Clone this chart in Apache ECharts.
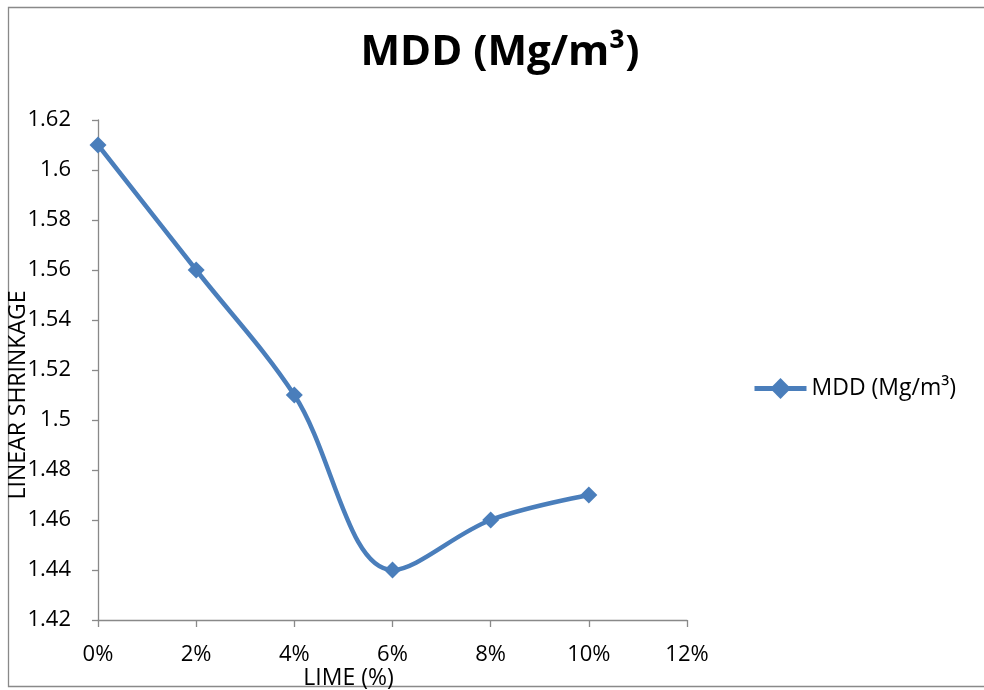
<!DOCTYPE html>
<html><head><meta charset="utf-8">
<script src="https://cdn.jsdelivr.net/npm/echarts@6/dist/echarts.min.js"></script>
<style>html,body{margin:0;padding:0;background:#fff}#c{width:984px;height:690px}</style>
</head><body><div id="c"></div>
<script>
const lime = [0, 2, 4, 6, 8, 10];
const mdd = [1.61, 1.56, 1.51, 1.44, 1.46, 1.47];
const seriesName = 'MDD (Mg/m³)';
const titleText = 'MDD (Mg/m³)';
const FONT = '"Open Sans", "Noto Sans", sans-serif';
const axisColor = '#898989';

const chart = echarts.init(document.getElementById('c'), null, {renderer: 'canvas'});
chart.setOption({
  animation: false,
  backgroundColor: '#fff',
  title: {
    text: titleText, left: 500, top: 32, textAlign: 'center', padding: 0,
    textStyle: {fontFamily: FONT, fontSize: 42, fontWeight: 'bold', color: '#000'}
  },
  legend: {
    left: 752, top: 377, orient: 'vertical', padding: 0,
    itemWidth: 52, itemHeight: 26, itemGap: 8,
    lineStyle: {width: 5},
    textStyle: {fontFamily: FONT, fontSize: 23, color: '#000'},
    data: [{name: seriesName}]
  },
  grid: {left: 98, right: 297, top: 120, bottom: 70, containLabel: false, outerBoundsMode: 'none'},
  xAxis: {
    type: 'value', min: 0, max: 12, interval: 2,
    name: 'LIME (%)', nameLocation: 'middle', nameGap: 47, nameMoveOverlap: false,
    nameTextStyle: {fontFamily: FONT, fontSize: 23, color: '#000', padding: [0, 88, 0, 0]},
    axisLine: {show: true, lineStyle: {color: axisColor, width: 1.3}},
    axisTick: {show: true, inside: false, length: 7, lineStyle: {color: axisColor, width: 1.3}},
    splitLine: {show: false},
    axisLabel: {fontFamily: FONT, fontSize: 22, color: '#000', margin: 24, formatter: v => v + '%'}
  },
  yAxis: {
    type: 'value', min: 1.42, max: 1.62, interval: 0.02,
    name: 'LINEAR SHRINKAGE', nameLocation: 'middle', nameGap: 68, nameRotate: 90, nameMoveOverlap: false,
    nameTextStyle: {fontFamily: FONT, fontSize: 23, color: '#000', padding: [0, 50, 0, 0]},
    axisLine: {show: true, lineStyle: {color: axisColor, width: 1.3}},
    axisTick: {show: true, inside: false, length: 6, lineStyle: {color: axisColor, width: 1.3}},
    splitLine: {show: false},
    axisLabel: {fontFamily: FONT, fontSize: 22, color: '#000', margin: 27,
      formatter: v => String(parseFloat(v.toFixed(2)))}
  },
  series: [{
    name: seriesName, type: 'line', smooth: 0.35,
    data: lime.map((x, i) => [x, mdd[i]]),
    symbol: 'diamond', symbolSize: 17,
    lineStyle: {color: '#4a7ebb', width: 4.5},
    itemStyle: {color: '#4a7ebb'}
  }],
  graphic: [{
    type: 'rect', shape: {x: 8.5, y: 7.5, width: 990, height: 679},
    style: {fill: 'none', stroke: '#898989', lineWidth: 1.3}, silent: true
  }]
});
</script></body></html>
